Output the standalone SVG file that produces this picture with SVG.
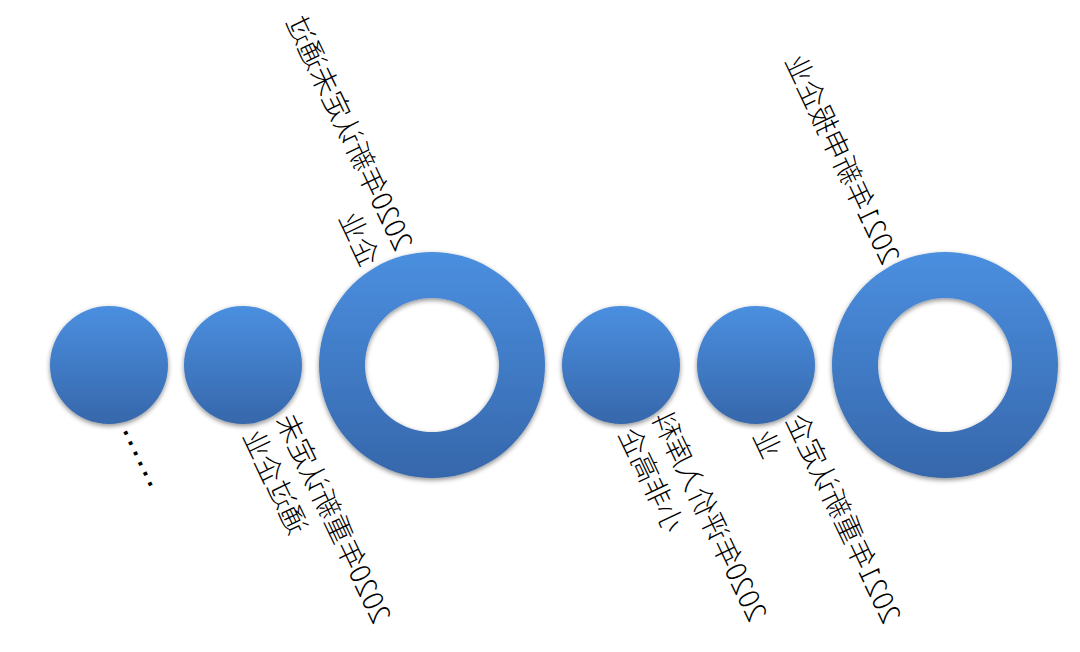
<svg xmlns="http://www.w3.org/2000/svg" width="1080" height="652" viewBox="0 0 1080 652">
<defs>
<linearGradient id="g" x1="0" y1="0" x2="0" y2="1">
<stop offset="0" stop-color="#4b8fe0"/>
<stop offset="1" stop-color="#3667ab"/>
</linearGradient>
<filter id="sh" x="-10%" y="-10%" width="120%" height="125%">
<feGaussianBlur in="SourceAlpha" stdDeviation="2.5"/>
<feOffset dy="2" result="b"/>
<feComponentTransfer><feFuncA type="linear" slope="0.45"/></feComponentTransfer>
<feMerge><feMergeNode/><feMergeNode in="SourceGraphic"/></feMerge>
</filter>
<style>
.n{fill:url(#g);filter:url(#sh)}
.t{font-family:"Noto Sans CJK SC","Noto Sans",sans-serif;font-size:28px;font-weight:300;fill:#000}
.d{font-family:"Liberation Sans",sans-serif;font-size:36px;letter-spacing:1.3px;fill:#000}
</style>
</defs>
<rect width="1080" height="652" fill="#fff"/>
<g id="connectors"></g>
<g id="node1">
<circle class="n" cx="109" cy="365" r="59"/>
<text class="d" transform="matrix(-0.4305 -0.9026 -0.9026 0.4305 150.5 489.3)">......</text>
</g>
<g id="node2">
<circle class="n" cx="243" cy="365" r="59"/>
<text class="t" text-anchor="end" transform="matrix(-0.4305 -0.9026 -0.9026 0.4305 275.4 419.7)"><tspan x="0" y="0">2020年重新认定未</tspan><tspan x="0" y="37">通过企业</tspan></text>
</g>
<g id="node3">
<path class="n" fill-rule="evenodd" d="M432 252a113 113 0 1 0 0.01 0zM432 298a67 67 0 1 1 -0.01 0z"/>
<text class="t" transform="matrix(-0.4305 -0.9026 -0.9026 0.4305 395.4 252.7)"><tspan x="0" y="0">2020年新认定未通过</tspan><tspan x="0" y="37">企业</tspan></text>
</g>
<g id="node4">
<circle class="n" cx="621" cy="365" r="59"/>
<text class="t" text-anchor="end" transform="matrix(-0.4305 -0.9026 -0.9026 0.4305 651.4 417.7)"><tspan x="0" y="0">2020年评价入库科</tspan><tspan x="0" y="37">小非高企</tspan></text>
</g>
<g id="node5">
<circle class="n" cx="756" cy="365" r="59"/>
<text class="t" text-anchor="end" transform="matrix(-0.4305 -0.9026 -0.9026 0.4305 785.4 419.7)"><tspan x="0" y="0">2021年重新认定企</tspan><tspan x="0" y="37">业</tspan></text>
</g>
<g id="node6">
<path class="n" fill-rule="evenodd" d="M945 252a113 113 0 1 0 0.01 0zM945 298a67 67 0 1 1 -0.01 0z"/>
<text class="t" transform="matrix(-0.4305 -0.9026 -0.9026 0.4305 882.4 266.5)">2021年新申报企业</text>
</g>
</svg>
